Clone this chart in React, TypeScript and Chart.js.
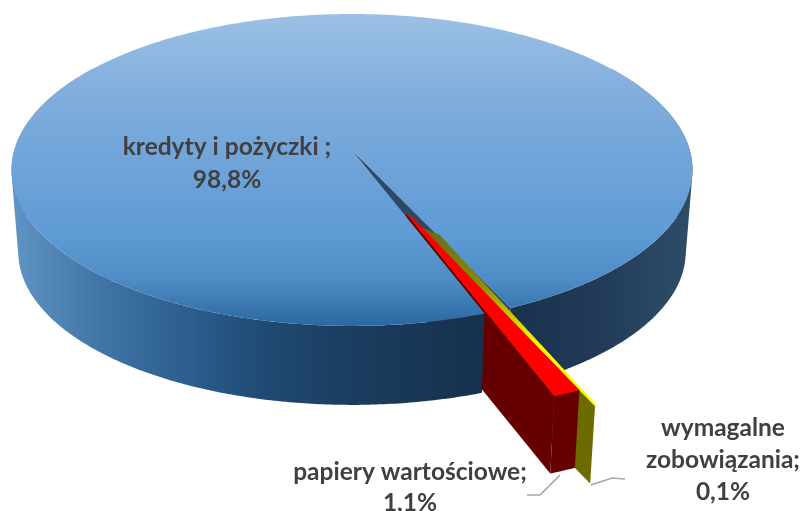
import React, { useEffect, useRef } from "react";
import { Chart, registerables } from "chart.js";

Chart.register(...registerables);

const categories = ["kredyty i pożyczki", "wymagalne zobowiązania", "papiery wartościowe"];
const shares = [98.8, 0.1, 1.1];
const labelLines = [
  ["kredyty i pożyczki ;", "98,8%"],
  ["wymagalne", "zobowiązania;", "0,1%"],
  ["papiery wartościowe;", "1,1%"],
];
const topColors = ["#5f9bd5", "#ffff00", "#ff0000"];
const sideColors = ["#2b4a66", "#6b6b00", "#660000"];

const W = 803;
const H = 511;
const CX = 352;
const CY = 150;
const R = 337.7;
const S = 153.4;
const K = 0.128;
const VY = 4275;
const VS = 0.98;
const SKEW = (1 * Math.PI) / 180;
const RED_EXPLODE = 0.42;
const YELLOW_EXTRA = 0.078;
const RED_SHOULDER: [number, number] = [0.022, 0.033];
const YELLOW_SHOULDER: [number, number] = [0.059, 0.054];

type Pt = [number, number];
function proj(u: number, v: number, z: number): Pt {
  const w = 1 - K * v;
  const x = CX + (R * u) / w;
  const y = CY + (S * v) / w;
  if (!z) return [x, y];
  return [CX + (x - CX) * VS, VY + (y - VY) * VS];
}
function rim(a: number, e: number, mid: number, z: number, r = 1): Pt {
  return proj(e * Math.cos(mid) + r * Math.cos(a), e * Math.sin(mid) + r * Math.sin(a), z);
}
function poly(ctx: CanvasRenderingContext2D, pts: Pt[], fill: string | CanvasGradient) {
  ctx.beginPath();
  pts.forEach((p, i) => (i ? ctx.lineTo(p[0], p[1]) : ctx.moveTo(p[0], p[1])));
  ctx.closePath();
  ctx.fillStyle = fill;
  ctx.fill();
}
function sweep(a0: number, a1: number, e: number, mid: number, z: number): Pt[] {
  const n = Math.max(2, Math.ceil(Math.abs(a1 - a0) / 0.01));
  const out: Pt[] = [];
  for (let i = 0; i <= n; i++) out.push(rim(a0 + ((a1 - a0) * i) / n, e, mid, z));
  return out;
}
function strip(ctx: CanvasRenderingContext2D, a0: number, a1: number, e: number, mid: number, fill: string | CanvasGradient) {
  const top = sweep(a0, a1, e, mid, 0);
  const bot = sweep(a0, a1, e, mid, 1);
  ctx.beginPath();
  for (let i = 0; i < top.length - 1; i++) {
    let q = [top[i], top[i + 1], bot[i + 1], bot[i]];
    let area = 0;
    for (let j = 0; j < 4; j++) {
      const p = q[j];
      const n = q[(j + 1) % 4];
      area += p[0] * n[1] - n[0] * p[1];
    }
    if (area < 0) q = q.reverse();
    q.forEach((p, j) => (j ? ctx.lineTo(p[0], p[1]) : ctx.moveTo(p[0], p[1])));
    ctx.closePath();
  }
  ctx.fillStyle = fill;
  ctx.fill("nonzero");
}
function wedgeFace(a0: number, a1: number, e: number, mid: number, shoulder: [number, number] = [0, 0]): Pt[] {
  const cu = e * Math.cos(mid);
  const cv = e * Math.sin(mid);
  // the inner tip keeps a little width, so the exploded strips read as bands
  return [proj(cu, cv, 0), proj(cu + shoulder[0], cv + shoulder[1], 0), ...sweep(a0, a1, e, mid, 0)];
}
function radialFace(a: number, e: number, mid: number): Pt[] {
  const c0 = proj(e * Math.cos(mid), e * Math.sin(mid), 0);
  const c1 = proj(e * Math.cos(mid), e * Math.sin(mid), 1);
  return [c0, rim(a, e, mid, 0), rim(a, e, mid, 1), c1];
}

const pie3d = {
  id: "pie3d",
  beforeDatasetsDraw(chart: any) {
    const ctx: CanvasRenderingContext2D = chart.ctx;
    const arcs = chart.getDatasetMeta(0).data;
    const [blue, yellow, red] = arcs;
    const rMid = (red.startAngle + red.endAngle) / 2 + SKEW;
    // the small slice slides along the red slice's edge
    const yx = RED_EXPLODE * Math.cos(rMid) + YELLOW_EXTRA * Math.cos(yellow.endAngle);
    const yy = RED_EXPLODE * Math.sin(rMid) + YELLOW_EXTRA * Math.sin(yellow.endAngle);
    const yMid = Math.atan2(yy, yx);
    const yE = Math.hypot(yx, yy);

    const wall = ctx.createLinearGradient(15, 0, 690, 0);
    wall.addColorStop(0, "#5f93c4");
    wall.addColorStop(0.13, "#3f74a5");
    wall.addColorStop(0.25, "#2c5f90");
    wall.addColorStop(0.37, "#1f4a73");
    wall.addColorStop(0.5, "#1b3d60");
    wall.addColorStop(0.7, "#16304c");
    wall.addColorStop(0.87, "#223c58");
    wall.addColorStop(1, "#2e4c68");

    const face = ctx.createLinearGradient(0, 14, 0, 326);
    face.addColorStop(0, "#9cc0e5");
    face.addColorStop(0.3, "#7dabdc");
    face.addColorStop(0.7, "#5f9bd5");
    face.addColorStop(0.85, "#4f8bc4");
    face.addColorStop(1, "#2b68a1");

    // the thin strip is olive near the centre and turns bright towards the rim
    const band = ctx.createLinearGradient(0, 225, 0, 345);
    band.addColorStop(0, "#5f6a20");
    band.addColorStop(0.5, "#8c8c00");
    band.addColorStop(1, topColors[1]);

    const back = 0.6;
    // farthest first: the cut in the big slice, its right wall, the slices' sides, its left wall, its top
    poly(ctx, radialFace(blue.endAngle, 0, 0), sideColors[0]);
    strip(ctx, -back, blue.endAngle - 2 * Math.PI * Math.floor((blue.endAngle + back) / (2 * Math.PI)), 0, 0, wall);
    poly(ctx, radialFace(yellow.endAngle, yE, yMid), sideColors[1]);
    poly(ctx, radialFace(red.endAngle, RED_EXPLODE, rMid), sideColors[2]);
    const s = blue.startAngle - 2 * Math.PI * Math.floor(blue.startAngle / (2 * Math.PI));
    strip(ctx, s, Math.PI + back, 0, 0, wall);

    poly(ctx, wedgeFace(blue.startAngle, blue.endAngle, 0, 0), face);

    // exploded slices
    poly(ctx, wedgeFace(yellow.startAngle, yellow.endAngle, yE, yMid, YELLOW_SHOULDER), band);
    strip(ctx, red.startAngle, red.endAngle, RED_EXPLODE, rMid, sideColors[2]);
    poly(ctx, wedgeFace(red.startAngle, red.endAngle, RED_EXPLODE, rMid, RED_SHOULDER), topColors[2]);
    return false;
  },
  afterDraw(chart: any) {
    const ctx: CanvasRenderingContext2D = chart.ctx;
    ctx.save();
    ctx.strokeStyle = "#a6a6a6";
    ctx.lineWidth = 1.6;
    [
      [[560, 475], [540, 495], [527, 495]],
      [[591, 485], [612, 478], [625, 479]],
    ].forEach((l) => {
      ctx.beginPath();
      l.forEach((p, i) => (i ? ctx.lineTo(p[0], p[1]) : ctx.moveTo(p[0], p[1])));
      ctx.stroke();
    });
    ctx.fillStyle = "#404040";
    ctx.font = "bold 24.5px Lato";
    ctx.textAlign = "center";
    ctx.textBaseline = "middle";
    const anchors: [number, number[]][] = [
      [227, [147, 180]],
      [723, [428, 460, 492]],
      [410, [472, 503]],
    ];
    labelLines.forEach((lines, i) => {
      lines.forEach((t, j) => ctx.fillText(t, anchors[i][0], anchors[i][1][j]));
    });
    ctx.restore();
  },
};

export default function App() {
  const ref = useRef<HTMLCanvasElement>(null);
  useEffect(() => {
    const chart = new Chart(ref.current!, {
      type: "pie",
      data: {
        labels: categories,
        datasets: [{ data: shares, backgroundColor: topColors, borderWidth: 0 }],
      },
      options: {
        animation: false,
        responsive: false,
        rotation: 159.8,
        plugins: { legend: { display: false }, tooltip: { enabled: false } },
      },
      plugins: [pie3d],
    });
    return () => chart.destroy();
  }, []);
  return (
    <div style={{ position: "fixed", left: 0, top: 0, width: W, height: H, background: "#fff" }}>
      <canvas ref={ref} width={W} height={H} style={{ display: "block" }} />
    </div>
  );
}
